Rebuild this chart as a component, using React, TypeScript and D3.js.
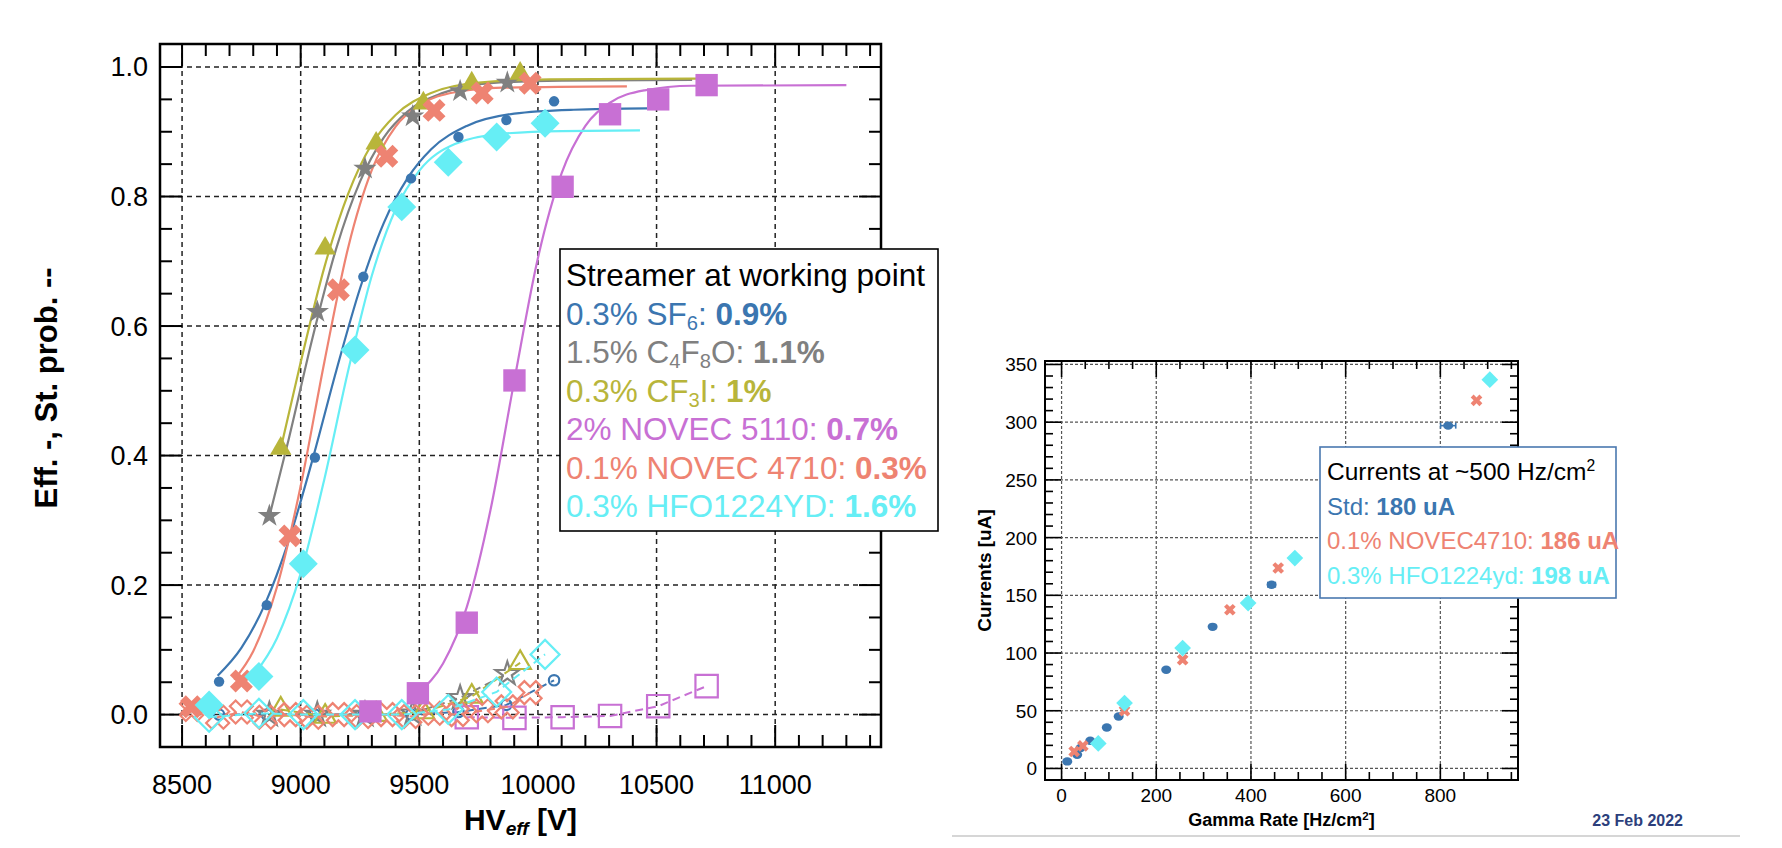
import React from "react";
import * as d3 from "d3";

const W = 1782;
const H = 848;
const FONT = "'Liberation Sans', Arial, Helvetica, sans-serif";

const C = {
  blue: "#3b76b0",
  gray: "#808080",
  olive: "#b8b53a",
  violet: "#c870d4",
  salmon: "#ee8372",
  cyan: "#66eef5",
};

// ---------- left panel: efficiency (filled) / streamer probability (open) ----------
const hvSF6 = [8656, 8857, 9060, 9264, 9465, 9665, 9867, 10068];
const effSF6 = [0.051, 0.169, 0.397, 0.676, 0.828, 0.892, 0.918, 0.947];
const stSF6 = [0.0, 0.0, 0.0, 0.0, 0.0, 0.004, 0.015, 0.053];
const fitHvSF6 = [8650, 8750, 8850, 8950, 9050, 9150, 9250, 9350, 9450, 9550, 9700, 9900, 10150, 10460];
const fitEffSF6 = [0.06, 0.103, 0.171, 0.269, 0.394, 0.531, 0.658, 0.759, 0.828, 0.873, 0.909, 0.928, 0.934, 0.936];

const hvC4F8O = [8868, 9070, 9271, 9472, 9672, 9871];
const effC4F8O = [0.307, 0.622, 0.843, 0.924, 0.963, 0.976];
const stC4F8O = [0.0, 0.0, 0.0, 0.002, 0.026, 0.063];
const fitHvC4F8O = [8868, 8950, 9050, 9150, 9250, 9350, 9450, 9600, 9800, 10100, 10650];
const fitEffC4F8O = [0.306, 0.426, 0.582, 0.72, 0.823, 0.891, 0.931, 0.96, 0.975, 0.979, 0.98];

const hvCF3I = [8916, 9103, 9318, 9517, 9721, 9925];
const effCF3I = [0.411, 0.72, 0.882, 0.944, 0.975, 0.99];
const stCF3I = [0.008, -0.003, 0.0, 0.004, 0.028, 0.08];
const fitHvCF3I = [8916, 9000, 9100, 9200, 9300, 9400, 9550, 9750, 10050, 10700];
const fitEffCF3I = [0.411, 0.544, 0.691, 0.804, 0.881, 0.926, 0.96, 0.976, 0.981, 0.982];

const hvN5110 = [9294, 9494, 9700, 9901, 10104, 10304, 10507, 10711];
const effN5110 = [0.005, 0.033, 0.142, 0.516, 0.815, 0.927, 0.95, 0.972];
const stHvN5110 = [9700, 9901, 10104, 10304, 10507, 10711];
const stN5110 = [-0.004, -0.005, -0.004, -0.002, 0.013, 0.044];
const fitHvN5110 = [9500, 9600, 9700, 9800, 9900, 10000, 10100, 10200, 10300, 10450, 10650, 11300];
const fitEffN5110 = [0.035, 0.079, 0.166, 0.316, 0.515, 0.705, 0.836, 0.909, 0.944, 0.964, 0.971, 0.972];

const hvN4710 = [8540, 8750, 8955, 9159, 9363, 9562, 9765, 9967];
const effN4710 = [0.012, 0.052, 0.276, 0.656, 0.862, 0.933, 0.96, 0.975];
const stHvN4710 = [8540, 8650, 8750, 8850, 8955, 9050, 9159, 9260, 9363, 9460, 9562, 9660, 9765, 9870, 9967];
const stN4710 = [0.008, -0.004, 0.004, -0.004, 0.0, -0.004, 0.0, -0.003, 0.0, -0.003, 0.002, 0.0, 0.006, 0.012, 0.034];
const fitHvN4710 = [8720, 8800, 8900, 9000, 9100, 9200, 9300, 9400, 9500, 9650, 9850, 10375];
const fitEffN4710 = [0.054, 0.098, 0.197, 0.353, 0.545, 0.721, 0.841, 0.908, 0.941, 0.961, 0.968, 0.97];

const hvHFO = [8614, 8824, 9011, 9229, 9426, 9622, 9826, 10030];
const effHFO = [0.015, 0.059, 0.233, 0.563, 0.784, 0.853, 0.892, 0.913];
const stHFO = [-0.004, 0.002, 0.0, 0.0, 0.0, 0.008, 0.035, 0.093];
const fitHvHFO = [8800, 8900, 9000, 9100, 9200, 9300, 9400, 9500, 9650, 9850, 10100, 10430];
const fitEffHFO = [0.06, 0.118, 0.218, 0.364, 0.531, 0.678, 0.78, 0.84, 0.881, 0.897, 0.901, 0.902];

const hvTicks = [8500, 9000, 9500, 10000, 10500, 11000];
const effTicks = [0, 0.2, 0.4, 0.6, 0.8, 1.0];

// ---------- right panel: currents vs gamma rate ----------
const rateStd = [12, 33, 40, 60.6, 95.5, 120.6, 221, 319, 443.5, 816.5];
const curStd = [6.1, 11.9, 17.7, 24, 35.5, 45, 85.5, 122.7, 159.2, 297];
const rateErrStd = [0, 0, 0, 0, 0, 0, 3, 6, 8, 16];
const rateNovec = [26.6, 45, 133, 255.7, 355.4, 457.5, 876.4];
const curNovec = [14.7, 19.5, 50, 94.2, 137.5, 173.7, 318.9];
const rateHfo = [77.5, 133, 255.7, 394, 492.7, 904.5];
const curHfo = [21.7, 56.7, 104.3, 143.3, 182.3, 336.8];

const rateTicks = [0, 200, 400, 600, 800];
const curTicks = [0, 50, 100, 150, 200, 250, 300, 350];

type Seg = { t: string; b?: boolean; i?: boolean; sub?: boolean; sup?: boolean };

function Rich(props: { segs: Seg[]; x: number; y: number; size: number; fill: string; anchor?: string; transform?: string; weight?: string }) {
  const { segs, x, y, size, fill, anchor, transform, weight } = props;
  let shift = 0;
  const spans = segs.map((s, k) => {
    const target = s.sub ? size * 0.16 : s.sup ? -size * 0.36 : 0;
    const dy = target - shift;
    shift = target;
    return (
      <tspan
        key={k}
        dy={dy}
        fontWeight={s.b ? "bold" : undefined}
        fontStyle={s.i ? "italic" : undefined}
        fontSize={s.sub || s.sup ? size * 0.64 : undefined}
      >
        {s.t}
      </tspan>
    );
  });
  return (
    <text x={x} y={y} fontSize={size} fill={fill} textAnchor={anchor} transform={transform} fontWeight={weight}>
      {spans}
    </text>
  );
}

type Box = { x0: number; x1: number; y0: number; y1: number };

function Ticks(props: {
  x: d3.ScaleLinear<number, number>;
  y: d3.ScaleLinear<number, number>;
  box: Box;
  xMaj: number[];
  xMin: number[];
  yMaj: number[];
  yMin: number[];
  maj: number;
  min: number;
  width: number;
}) {
  const { x, y, box, xMaj, xMin, yMaj, yMin, maj, min, width } = props;
  const segs: number[][] = [];
  const addX = (v: number, len: number) => {
    const px = x(v);
    segs.push([px, box.y1, px, box.y1 - len]);
    segs.push([px, box.y0, px, box.y0 + len]);
  };
  const addY = (v: number, len: number) => {
    const py = y(v);
    segs.push([box.x0, py, box.x0 + len, py]);
    segs.push([box.x1, py, box.x1 - len, py]);
  };
  xMaj.forEach((v) => addX(v, maj));
  xMin.forEach((v) => addX(v, min));
  yMaj.forEach((v) => addY(v, maj));
  yMin.forEach((v) => addY(v, min));
  return (
    <g stroke="#000" strokeWidth={width}>
      {segs.map((s, i) => (
        <line key={i} x1={s[0]} y1={s[1]} x2={s[2]} y2={s[3]} />
      ))}
    </g>
  );
}

const symPath = (type: d3.SymbolType, size: number) => d3.symbol().type(type).size(size)() || "";

function LeftPanel() {
  const box: Box = { x0: 160, x1: 881, y0: 44, y1: 747 };
  const x = d3.scaleLinear().domain([8407, 11446]).range([box.x0, box.x1]);
  const y = d3.scaleLinear().domain([-0.05, 1.0355]).range([box.y1, box.y0]);

  const series = [
    { color: C.blue, sym: d3.symbolCircle, size: 85, rot: 0, hv: hvSF6, eff: effSF6, stHv: hvSF6, st: stSF6, fHv: fitHvSF6, fEff: fitEffSF6 },
    { color: C.gray, sym: d3.symbolStar, size: 170, rot: 0, hv: hvC4F8O, eff: effC4F8O, stHv: hvC4F8O, st: stC4F8O, fHv: fitHvC4F8O, fEff: fitEffC4F8O },
    { color: C.olive, sym: d3.symbolTriangle, size: 200, rot: 0, hv: hvCF3I, eff: effCF3I, stHv: hvCF3I, st: stCF3I, fHv: fitHvCF3I, fEff: fitEffCF3I },
    { color: C.violet, sym: d3.symbolSquare, size: 500, rot: 0, hv: hvN5110, eff: effN5110, stHv: stHvN5110, st: stN5110, fHv: fitHvN5110, fEff: fitEffN5110 },
    { color: C.salmon, sym: d3.symbolCross, size: 330, rot: 45, hv: hvN4710, eff: effN4710, stHv: stHvN4710, st: stN4710, fHv: fitHvN4710, fEff: fitEffN4710 },
    { color: C.cyan, sym: d3.symbolSquare, size: 420, rot: 45, hv: hvHFO, eff: effHFO, stHv: hvHFO, st: stHFO, fHv: fitHvHFO, fEff: fitEffHFO },
  ];

  const fitLine = d3.line<number>().curve(d3.curveMonotoneX);

  const xMin = d3.range(8500, 11401, 100).filter((v) => v % 500 !== 0);
  const yMin = d3
    .range(-0.05, 1.03, 0.05)
    .map((v) => +v.toFixed(2))
    .filter((v) => Math.round(v * 100) % 20 !== 0 && v > -0.04);

  const yMid = 388;
  const lx = 566;
  const fs = 31.5;

  return (
    <g>
      {/* grid */}
      <g stroke="#222" strokeWidth={1.5} strokeDasharray="5,4">
        {hvTicks.map((v) => (
          <line key={"gx" + v} x1={x(v)} x2={x(v)} y1={box.y0} y2={box.y1} />
        ))}
        {effTicks.map((v) => (
          <line key={"gy" + v} x1={box.x0} x2={box.x1} y1={y(v)} y2={y(v)} />
        ))}
      </g>
      <Ticks x={x} y={y} box={box} xMaj={hvTicks} xMin={xMin} yMaj={effTicks} yMin={yMin} maj={22} min={12} width={2} />
      <rect x={box.x0} y={box.y0} width={box.x1 - box.x0} height={box.y1 - box.y0} fill="none" stroke="#000" strokeWidth={2.5} />

      {/* streamer probability: dashed lines + open markers */}
      {series.map((s, k) => (
        <g key={"st" + k}>
          <path
            d={d3.line<number>().x((v) => x(v)).y((_, i) => y(s.st[i]))(s.stHv) || ""}
            fill="none"
            stroke={s.color}
            strokeWidth={2}
            strokeDasharray="8,5"
          />
          {s.stHv.map((v, i) => (
            <path
              key={i}
              d={symPath(s.sym, s.size)}
              transform={`translate(${x(v)},${y(s.st[i])}) rotate(${s.rot})`}
              fill="#fff"
              fillOpacity={0}
              stroke={s.color}
              strokeWidth={2.2}
            />
          ))}
        </g>
      ))}

      {/* efficiency: fits + filled markers */}
      {series.map((s, k) => (
        <path
          key={"fit" + k}
          d={fitLine.x((v) => x(v)).y((_, i) => y(s.fEff[i]))(s.fHv) || ""}
          fill="none"
          stroke={s.color}
          strokeWidth={2.2}
        />
      ))}
      {series.map((s, k) => (
        <g key={"eff" + k} fill={s.color}>
          {s.hv.map((v, i) => (
            <path key={i} d={symPath(s.sym, s.size)} transform={`translate(${x(v)},${y(s.eff[i])}) rotate(${s.rot})`} />
          ))}
        </g>
      ))}

      {/* axis labels */}
      <g fontSize={27} fill="#000">
        {hvTicks.map((v) => (
          <text key={"lx" + v} x={x(v)} y={box.y1 + 47} textAnchor="middle">
            {v}
          </text>
        ))}
        {effTicks.map((v) => (
          <text key={"ly" + v} x={148} y={y(v) + 9.5} textAnchor="end">
            {v.toFixed(1)}
          </text>
        ))}
      </g>
      <text x={57} y={yMid} fontSize={31} fontWeight="bold" textAnchor="middle" transform={`rotate(-90,57,${yMid})`}>
        Eff. -, St. prob. --
      </text>
      <Rich
        x={(box.x0 + box.x1) / 2}
        y={830}
        size={30}
        fill="#000"
        anchor="middle"
        weight="bold"
        segs={[{ t: "HV" }, { t: "eff", i: true, sub: true }, { t: " [V]" }]}
      />

      {/* legend */}
      <rect x={560} y={249} width={378} height={282} fill="#fff" stroke="#000" strokeWidth={1.6} />
      <g>
        <Rich x={lx} y={286} size={fs} fill="#000" segs={[{ t: "Streamer at working point" }]} />
        <Rich x={lx} y={325} size={fs} fill={C.blue} segs={[{ t: "0.3% SF" }, { t: "6", sub: true }, { t: ": " }, { t: "0.9%", b: true }]} />
        <Rich
          x={lx}
          y={363}
          size={fs}
          fill={C.gray}
          segs={[{ t: "1.5% C" }, { t: "4", sub: true }, { t: "F" }, { t: "8", sub: true }, { t: "O: " }, { t: "1.1%", b: true }]}
        />
        <Rich x={lx} y={402} size={fs} fill={C.olive} segs={[{ t: "0.3% CF" }, { t: "3", sub: true }, { t: "I: " }, { t: "1%", b: true }]} />
        <Rich x={lx} y={440} size={fs} fill={C.violet} segs={[{ t: "2% NOVEC 5110: " }, { t: "0.7%", b: true }]} />
        <Rich x={lx} y={479} size={fs} fill={C.salmon} segs={[{ t: "0.1% NOVEC 4710: " }, { t: "0.3%", b: true }]} />
        <Rich x={lx} y={517} size={fs} fill={C.cyan} segs={[{ t: "0.3% HFO1224YD: " }, { t: "1.6%", b: true }]} />
      </g>
    </g>
  );
}

function RightPanel() {
  const box: Box = { x0: 1045, x1: 1518, y0: 361, y1: 780 };
  const x = d3.scaleLinear().domain([-35, 964]).range([box.x0, box.x1]);
  const y = d3.scaleLinear().domain([-10, 353]).range([box.y1, box.y0]);

  const xMin = d3.range(50, 951, 50).filter((v) => v % 200 !== 0);
  const yMin = d3.range(0, 351, 10).filter((v) => v % 50 !== 0);

  return (
    <g>
      <g stroke="#555" strokeWidth={1.2} strokeDasharray="3,2">
        {rateTicks.map((v) => (
          <line key={"gx" + v} x1={x(v)} x2={x(v)} y1={box.y0} y2={box.y1} />
        ))}
        {curTicks.map((v) => (
          <line key={"gy" + v} x1={box.x0} x2={box.x1} y1={y(v)} y2={y(v)} />
        ))}
      </g>
      <Ticks x={x} y={y} box={box} xMaj={rateTicks} xMin={xMin} yMaj={curTicks} yMin={yMin} maj={16} min={8} width={1.6} />
      <rect x={box.x0} y={box.y0} width={box.x1 - box.x0} height={box.y1 - box.y0} fill="none" stroke="#000" strokeWidth={2} />

      {/* Std with small rate errors */}
      <g stroke={C.blue} strokeWidth={1.6}>
        {rateStd.map((v, i) =>
          rateErrStd[i] > 0 ? (
            <g key={i}>
              <line x1={x(v - rateErrStd[i])} x2={x(v + rateErrStd[i])} y1={y(curStd[i])} y2={y(curStd[i])} />
              <line x1={x(v - rateErrStd[i])} x2={x(v - rateErrStd[i])} y1={y(curStd[i]) - 3} y2={y(curStd[i]) + 3} />
              <line x1={x(v + rateErrStd[i])} x2={x(v + rateErrStd[i])} y1={y(curStd[i]) - 3} y2={y(curStd[i]) + 3} />
            </g>
          ) : null
        )}
      </g>
      <g fill={C.blue}>
        {rateStd.map((v, i) => (
          <ellipse key={i} cx={x(v)} cy={y(curStd[i])} rx={5} ry={4.2} />
        ))}
      </g>
      <g fill={C.salmon}>
        {rateNovec.map((v, i) => (
          <path key={i} d={symPath(d3.symbolCross, 85)} transform={`translate(${x(v)},${y(curNovec[i])}) rotate(45)`} />
        ))}
      </g>
      <g fill={C.cyan}>
        {rateHfo.map((v, i) => (
          <path key={i} d={symPath(d3.symbolSquare, 140)} transform={`translate(${x(v)},${y(curHfo[i])}) rotate(45)`} />
        ))}
      </g>

      <g fontSize={19} fill="#000">
        {rateTicks.map((v) => (
          <text key={"lx" + v} x={x(v)} y={box.y1 + 22} textAnchor="middle">
            {v}
          </text>
        ))}
        {curTicks.map((v) => (
          <text key={"ly" + v} x={1037} y={y(v) + 7} textAnchor="end">
            {v}
          </text>
        ))}
      </g>
      <text x={991} y={(box.y0 + box.y1) / 2} fontSize={19} fontWeight="bold" textAnchor="middle" transform={`rotate(-90,991,${(box.y0 + box.y1) / 2})`}>
        Currents [uA]
      </text>
      <Rich
        x={(box.x0 + box.x1) / 2}
        y={826}
        size={18}
        fill="#000"
        anchor="middle"
        weight="bold"
        segs={[{ t: "Gamma Rate [Hz/cm" }, { t: "2", sup: true }, { t: "]" }]}
      />

      <rect x={1320} y={447} width={296} height={151} fill="#fff" stroke="#4a78b0" strokeWidth={1.6} />
      <Rich x={1327} y={480} size={24.5} fill="#000" segs={[{ t: "Currents at ~500 Hz/cm" }, { t: "2", sup: true }]} />
      <Rich x={1327} y={515} size={24} fill={C.blue} segs={[{ t: "Std: " }, { t: "180 uA", b: true }]} />
      <Rich x={1327} y={549} size={24} fill={C.salmon} segs={[{ t: "0.1% NOVEC4710: " }, { t: "186 uA", b: true }]} />
      <Rich x={1327} y={584} size={24} fill={C.cyan} segs={[{ t: "0.3% HFO1224yd: " }, { t: "198 uA", b: true }]} />
    </g>
  );
}

export default function App() {
  return (
    <svg width={W} height={H} style={{ position: "absolute", left: 0, top: 0, background: "#fff" }} fontFamily={FONT}>
      <rect width={W} height={H} fill="#fff" />
      <LeftPanel />
      <RightPanel />
      <line x1={952} x2={1740} y1={836} y2={836} stroke="#c8c8c8" strokeWidth={1.5} />
      <text x={1683} y={826} textAnchor="end" fontSize={16} fontWeight="bold" fill="#2d3f7c">
        23 Feb 2022
      </text>
    </svg>
  );
}
